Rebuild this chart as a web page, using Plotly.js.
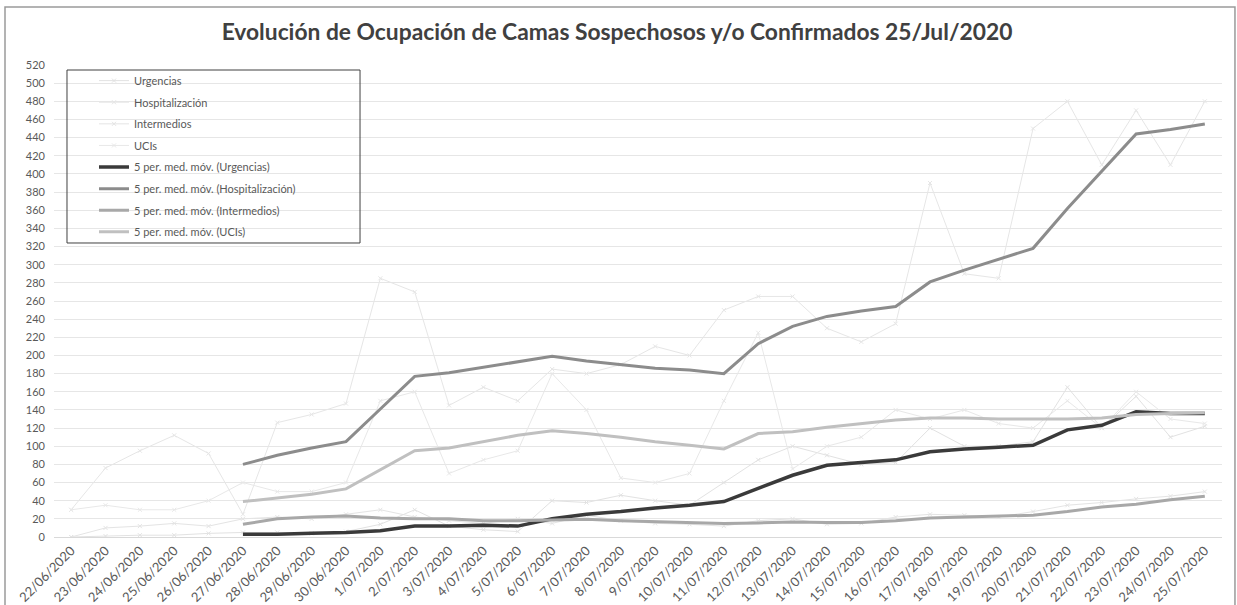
<!DOCTYPE html>
<html><head><meta charset="utf-8">
<script src="https://cdn.plot.ly/plotly-3.0.1.min.js"></script>
<style>html,body{margin:0;padding:0;background:#fff}#chart{width:1237px;height:605px}</style>
</head><body><div id="chart"></div>
<script>
const dates = ["22/06/2020","23/06/2020","24/06/2020","25/06/2020","26/06/2020","27/06/2020","28/06/2020","29/06/2020","30/06/2020",
"1/07/2020","2/07/2020","3/07/2020","4/07/2020","5/07/2020","6/07/2020","7/07/2020","8/07/2020","9/07/2020","10/07/2020",
"11/07/2020","12/07/2020","13/07/2020","14/07/2020","15/07/2020","16/07/2020","17/07/2020","18/07/2020","19/07/2020","20/07/2020",
"21/07/2020","22/07/2020","23/07/2020","24/07/2020","25/07/2020"];

// Raw daily series (faint in the reference)
const urgencias =       [0, 1, 2, 2, 4, 5, 5, 4, 6, 14, 30, 12, 8, 6, 40, 38, 46, 40, 35, 60, 85, 100, 90, 80, 82, 120, 100, 100, 105, 165, 120, 155, 110, 122];
const hospitalizacion = [30, 76, 95, 112, 92, 25, 126, 135, 147, 285, 270, 145, 165, 150, 185, 180, 190, 210, 200, 250, 265, 265, 230, 215, 235, 390, 290, 285, 450, 480, 410, 470, 410, 480];
const intermedios =     [0, 10, 12, 15, 12, 20, 22, 20, 25, 30, 22, 18, 15, 20, 15, 24, 18, 15, 14, 12, 18, 20, 14, 15, 22, 25, 24, 22, 28, 35, 38, 42, 45, 50];
const ucis =            [30, 35, 30, 30, 40, 60, 50, 50, 60, 150, 160, 70, 85, 95, 180, 140, 65, 60, 70, 150, 225, 75, 100, 110, 140, 130, 140, 125, 120, 150, 120, 160, 130, 125];

// 5-period moving averages (as drawn)
const maUrgencias =       [null,null,null,null,null, 3, 3, 4, 5, 7, 12, 12, 13, 12, 20, 25, 28, 32, 35, 39, 54, 68, 79, 82, 85, 94, 97, 99, 101, 118, 123, 138, 136, 136];
const maHospitalizacion = [null,null,null,null,null, 80, 90, 98, 105, 141, 177, 181, 187, 193, 199, 194, 190, 186, 184, 180, 213, 232, 243, 249, 254, 281, 294, 306, 318, 362, 403, 444, 449, 455];
const maIntermedios =     [null,null,null,null,null, 14, 20, 22, 23, 21, 20, 20, 18, 18, 18.5, 19.5, 18, 17, 16, 15, 15.5, 16.5, 16, 16, 18, 21, 22, 23, 24, 28, 33, 36, 41, 45];
const maUcis =            [null,null,null,null,null, 39, 43, 47, 53, 74, 95, 98, 105, 112, 117, 114, 110, 105, 101, 97, 114, 116, 121, 125, 129, 131, 131, 130, 130, 130, 131, 135, 136, 137];

const rawNames = ["Urgencias","Hospitalización","Intermedios","UCIs"];
const maNames = ["5 per. med. móv. (Urgencias)","5 per. med. móv. (Hospitalización)","5 per. med. móv. (Intermedios)","5 per. med. móv. (UCIs)"];
const rawData = [urgencias, hospitalizacion, intermedios, ucis];
const maData = [maUrgencias, maHospitalizacion, maIntermedios, maUcis];
const rawColors = ["#e2e2e2","#e6e6e6","#e4e4e4","#e8e8e8"];
const maColors = ["#3a3a3a","#8c8c8c","#a8a8a8","#c0c0c0"];
const maWidths = [3.5, 3, 3, 3];

const traces = [];
rawData.forEach((d,i)=>{
  traces.push({type:'scatter', mode:'lines+markers', x:dates, y:d, name:rawNames[i], legendgroup:'r'+i,
    line:{color:rawColors[i], width:1},
    marker:{symbol:'x-thin', size:4, color:rawColors[i], line:{color:rawColors[i], width:1}}, hoverinfo:'skip'});
});
maData.forEach((d,i)=>{
  traces.push({type:'scatter', mode:'lines', x:dates, y:d, name:maNames[i], legendgroup:'m'+i,
    line:{color:maColors[i], width:maWidths[i]}, connectgaps:false, hoverinfo:'skip'});
});

const layout = {
  width:1237, height:605,
  margin:{l:54, r:15, t:65, b:68},
  paper_bgcolor:'#ffffff', plot_bgcolor:'#ffffff',
  font:{family:'Lato, "Open Sans", sans-serif', color:'#595959'},
  title:{text:'Evolución de Ocupación de Camas Sospechosos y/o Confirmados 25/Jul/2020',
    font:{family:'Lato, "Open Sans", sans-serif', size:22.8, color:'#404040', weight:'bold'},
    xref:'container', yref:'container', x:0.4988, xanchor:'center', y:0.947, yanchor:'middle'},
  xaxis:{type:'category', categoryorder:'array', categoryarray:dates, range:[-0.5, 33.5],
    showgrid:false, showline:true, linecolor:'#d9d9d9', linewidth:1, ticks:'', tickangle:-45,
    tickfont:{size:13, color:'#595959'}, fixedrange:true},
  yaxis:{range:[0,520], dtick:20, tick0:0, showgrid:true, gridcolor:'#e6e6e6', gridwidth:1,
    zeroline:false, showline:false, ticks:'', tickfont:{size:11, color:'#595959'}, ticklabelstandoff:8, fixedrange:true},
  showlegend:true,
  legend:{x:0.03425, xanchor:'left', y:0.9976, yanchor:'top', bgcolor:'rgba(0,0,0,0)', borderwidth:0,
    font:{size:11, color:'#595959'}, traceorder:'grouped', tracegroupgap:2.6, itemclick:false, itemdoubleclick:false},
  shapes:[
    {type:'rect', xref:'paper', yref:'paper', x0:0.01113, x1:0.262, y0:0.6229, y1:0.9894,
      line:{color:'#404040', width:1}, fillcolor:'rgba(0,0,0,0)', layer:'above'},
    {type:'rect', xref:'paper', yref:'paper', x0:-0.04195, x1:1.0111, y0:-0.16, y1:1.1229,
      line:{color:'#9a9a9a', width:1.5}, fillcolor:'rgba(0,0,0,0)', layer:'above'}
  ]
};
Plotly.newPlot('chart', traces, layout, {displayModeBar:false, staticPlot:true});
</script></body></html>
